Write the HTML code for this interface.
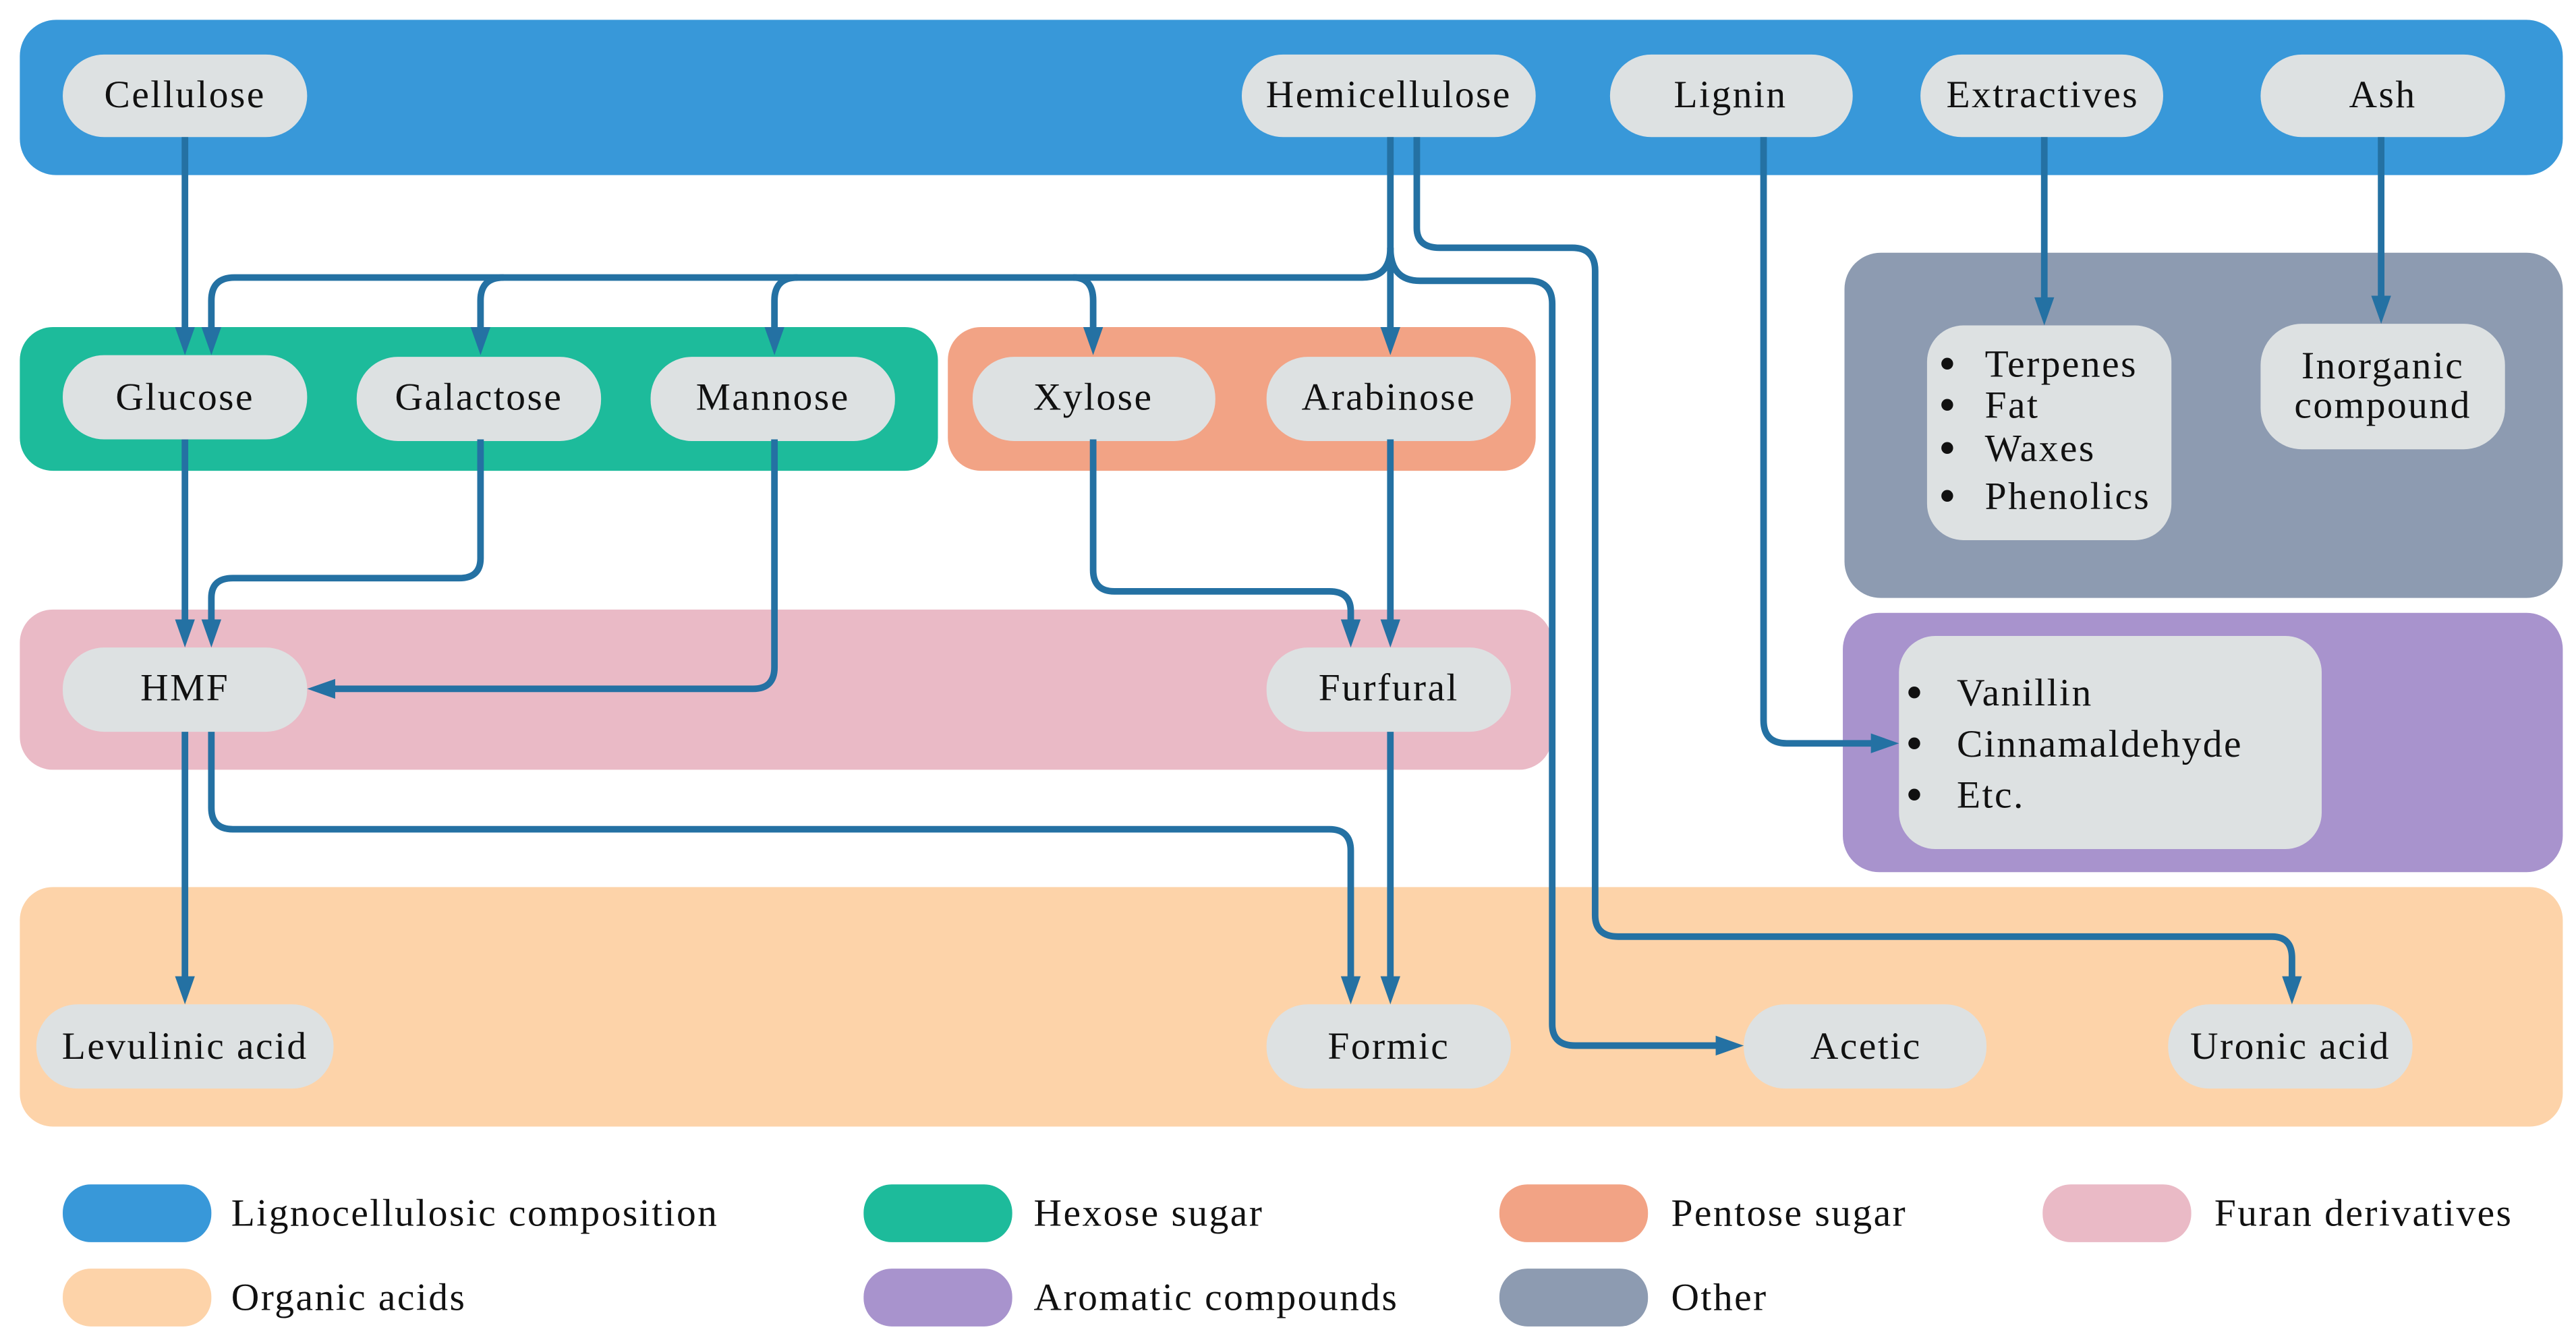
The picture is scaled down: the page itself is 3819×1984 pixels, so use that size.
<!DOCTYPE html>
<html><head><meta charset="utf-8"><style>
html,body{margin:0;padding:0;background:#fff;}
svg{display:block;}
text{font-family:"Liberation Serif",serif;font-size:23.5px;letter-spacing:1px;fill:#111;}
text.b{font-size:30px;letter-spacing:0;}
</style></head><body>
<svg width="3819" height="1984" viewBox="0 0 1560 810" preserveAspectRatio="none" xmlns="http://www.w3.org/2000/svg">
<!-- groups -->
<rect x="12" y="12" width="1540" height="94" rx="22" fill="#3898d9"/>
<rect x="12" y="198" width="556" height="87" rx="20" fill="#1dbb9b"/>
<rect x="574" y="198" width="356" height="87" rx="20" fill="#f2a385"/>
<rect x="1117" y="153" width="435" height="209" rx="22" fill="#8d9bb1"/>
<rect x="12" y="369" width="928" height="97" rx="20" fill="#eabac6"/>
<rect x="1116" y="371" width="436" height="157" rx="22" fill="#a893cd"/>
<rect x="12" y="537" width="1540" height="145" rx="20" fill="#fdd3a9"/>
<!-- nodes -->
<g fill="#dde1e2">
<rect x="38" y="33" width="148" height="50" rx="25"/>
<rect x="752" y="33" width="178" height="50" rx="25"/>
<rect x="975" y="33" width="147" height="50" rx="25"/>
<rect x="1163" y="33" width="147" height="50" rx="25"/>
<rect x="1369" y="33" width="148" height="50" rx="25"/>
<rect x="38" y="215" width="148" height="51" rx="25"/>
<rect x="216" y="216" width="148" height="51" rx="25"/>
<rect x="394" y="216" width="148" height="51" rx="25"/>
<rect x="589" y="216" width="147" height="51" rx="25"/>
<rect x="767" y="216" width="148" height="51" rx="25"/>
<rect x="1167" y="197" width="148" height="130" rx="22"/>
<rect x="1369" y="196" width="148" height="76" rx="25"/>
<rect x="38" y="392" width="148" height="51" rx="25"/>
<rect x="767" y="392" width="148" height="51" rx="25"/>
<rect x="1150" y="385" width="256" height="129" rx="22"/>
<rect x="22" y="608" width="180" height="51" rx="25"/>
<rect x="767" y="608" width="148" height="51" rx="25"/>
<rect x="1056" y="608" width="147" height="51" rx="25"/>
<rect x="1313" y="608" width="148" height="51" rx="25"/>
</g>
<g text-anchor="middle">
<text x="112" y="65">Cellulose</text>
<text x="841" y="65">Hemicellulose</text>
<text x="1048" y="65">Lignin</text>
<text x="1237" y="65">Extractives</text>
<text x="1443" y="65">Ash</text>
<text x="112" y="248">Glucose</text>
<text x="290" y="248">Galactose</text>
<text x="468" y="248">Mannose</text>
<text x="662" y="248">Xylose</text>
<text x="841" y="248">Arabinose</text>
<text x="1443" y="229">Inorganic</text>
<text x="1443" y="253">compound</text>
<text x="112" y="424">HMF</text>
<text x="841" y="424">Furfural</text>
<text x="112" y="641">Levulinic acid</text>
<text x="841" y="641">Formic</text>
<text x="1130" y="641">Acetic</text>
<text x="1387" y="641">Uronic acid</text>
</g>
<g>
<text class="b" x="1174" y="230">•</text><text x="1202" y="228">Terpenes</text>
<text class="b" x="1174" y="255">•</text><text x="1202" y="253">Fat</text>
<text class="b" x="1174" y="281">•</text><text x="1202" y="279">Waxes</text>
<text class="b" x="1174" y="310">•</text><text x="1202" y="308">Phenolics</text>
<text class="b" x="1154" y="429">•</text><text x="1185" y="427">Vanillin</text>
<text class="b" x="1154" y="460">•</text><text x="1185" y="458">Cinnamaldehyde</text>
<text class="b" x="1154" y="491">•</text><text x="1185" y="489">Etc.</text>
</g>
<!-- connectors -->
<g fill="none" stroke="#2471a3" stroke-width="4">
<path d="M112 83V200"/>
<path d="M842 83V200"/>
<path d="M842 150Q842 168 825 168H142Q128 168 128 182V200"/>
<path d="M305 168Q291 168 291 182V200"/>
<path d="M483 168Q469 168 469 182V200"/>
<path d="M650 168Q662 168 662 182V200"/>
<path d="M842 150Q842 170 860 170H926Q940 170 940 184V620Q940 633 954 633H1042"/>
<path d="M858 83V138Q858 150 872 150H952Q966 150 966 164V554Q966 567 980 567H1376Q1388 567 1388 580V594"/>
<path d="M1068 83V436Q1068 450 1082 450H1136"/>
<path d="M1238 83V182"/>
<path d="M1442 83V181"/>
<path d="M112 266V377"/>
<path d="M291 266V338Q291 350 278 350H141Q128 350 128 362V377"/>
<path d="M469 266V404Q469 417 456 417H200"/>
<path d="M662 266V345Q662 358 675 358H805Q818 358 818 370V377"/>
<path d="M842 266V377"/>
<path d="M112 443V593"/>
<path d="M128 443V489Q128 502 141 502H805Q818 502 818 515V593"/>
<path d="M842 443V593"/>
</g>
<g fill="#2471a3">
<path d="M106 198H118L112 215Z"/>
<path d="M122 198H134L128 215Z"/>
<path d="M285 198H297L291 215Z"/>
<path d="M463 198H475L469 215Z"/>
<path d="M656 198H668L662 215Z"/>
<path d="M836 198H848L842 215Z"/>
<path d="M1232 180H1244L1238 197Z"/>
<path d="M1436 179H1448L1442 196Z"/>
<path d="M106 375H118L112 392Z"/>
<path d="M122 375H134L128 392Z"/>
<path d="M812 375H824L818 392Z"/>
<path d="M836 375H848L842 392Z"/>
<path d="M203 411V423L186 417Z"/>
<path d="M1133 444V456L1150 450Z"/>
<path d="M106 591H118L112 608Z"/>
<path d="M812 591H824L818 608Z"/>
<path d="M836 591H848L842 608Z"/>
<path d="M1039 627V639L1056 633Z"/>
<path d="M1382 591H1394L1388 608Z"/>
</g>
<!-- legend -->
<rect x="38" y="717" width="90" height="35" rx="17" fill="#3898d9"/>
<rect x="523" y="717" width="90" height="35" rx="17" fill="#1dbb9b"/>
<rect x="908" y="717" width="90" height="35" rx="17" fill="#f2a385"/>
<rect x="1237" y="717" width="90" height="35" rx="17" fill="#eabac6"/>
<rect x="38" y="768" width="90" height="35" rx="17" fill="#fdd3a9"/>
<rect x="523" y="768" width="90" height="35" rx="17" fill="#a893cd"/>
<rect x="908" y="768" width="90" height="35" rx="17" fill="#8d9bb1"/>
<text x="140" y="742">Lignocellulosic composition</text>
<text x="626" y="742">Hexose sugar</text>
<text x="1012" y="742">Pentose sugar</text>
<text x="1341" y="742">Furan derivatives</text>
<text x="140" y="793">Organic acids</text>
<text x="626" y="793">Aromatic compounds</text>
<text x="1012" y="793">Other</text>
</svg>
</body></html>
